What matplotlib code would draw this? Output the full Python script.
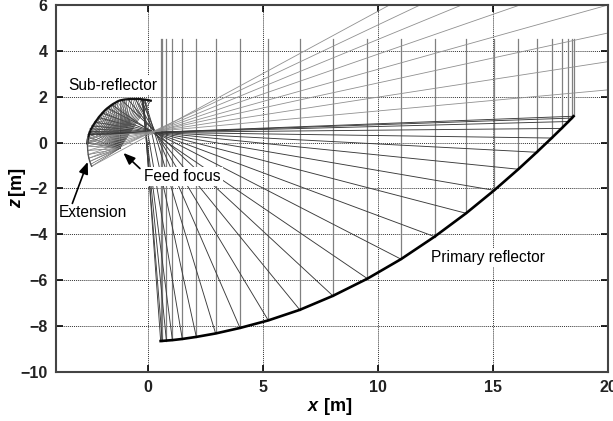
from matplotlib import pyplot as plt

plt.rcParams["font.family"] = ["Liberation Sans", "DejaVu Sans"]

# primary reflector, left to right
primary_x = [0.55, 0.62, 0.8, 1.06, 1.49, 2.1, 2.94, 4.0, 5.23, 6.6, 8.04, 9.54,
             11.0, 12.46, 13.83, 15.05, 16.1, 16.9, 17.55, 17.98, 18.28, 18.43, 18.5]
primary_z = [-8.65, -8.645, -8.63, -8.61, -8.56, -8.47, -8.32, -8.08, -7.75, -7.29, -6.68, -5.93,
             -5.08, -4.1, -3.08, -2.08, -1.16, -0.42, 0.2, 0.62, 0.92, 1.07, 1.15]

# where each primary ray ends on the sub-reflector
hit_x = [-0.2, -0.22, -0.24, -0.27, -0.25, -0.15, -0.15, -0.3, -0.55, -0.87, -1.15, -1.55,
         -1.75, -2.0, -2.15, -2.33, -2.44, -2.52, -2.56, -2.58, -2.59, -2.6, -2.6]
hit_z = [1.88, 1.88, 1.89, 1.89, 1.89, 1.87, 1.87, 1.89, 1.9, 1.89, 1.85, 1.63,
         1.5, 1.3, 1.09, 0.9, 0.73, 0.6, 0.49, 0.42, 0.375, 0.35, 0.34]

# sub-reflector outline, the feed rays start from these points
sub_x = [0.12, 0.02, -0.08, -0.18, -0.28, -0.38, -0.48, -0.58, -0.69, -0.8, -0.91, -1.02, -1.12, -1.22,
         -1.32, -1.42, -1.51, -1.6, -1.69, -1.77, -1.85, -1.93, -2.0, -2.07, -2.14, -2.2, -2.26, -2.32,
         -2.38, -2.43, -2.48, -2.52, -2.56, -2.59, -2.62, -2.64]
sub_z = [1.83, 1.85, 1.87, 1.88, 1.89, 1.9, 1.9, 1.9, 1.9, 1.9, 1.89, 1.88, 1.86, 1.84,
         1.8, 1.74, 1.69, 1.63, 1.56, 1.5, 1.43, 1.35, 1.27, 1.19, 1.11, 1.02, 0.94, 0.85,
         0.76, 0.67, 0.58, 0.48, 0.37, 0.26, 0.13, -0.03]

# extension of the sub-reflector and where its rays leave the plot
ext_x = [-2.62, -2.63, -2.63, -2.62, -2.6, -2.57, -2.53, -2.49, -2.45]
ext_z = [0.22, 0.03, -0.15, -0.34, -0.52, -0.68, -0.82, -0.94, -1.03]
exit_x = [20, 20, 20, 20, 16.17, 13.64, 11.83, 11.1, 10.5]
exit_z = [2.3, 3.53, 4.78, 6, 6, 6, 6, 6, 6]

focus_x = -1.22
focus_z = -0.25
caustic_x = -0.75
caustic_z = 0.78
top_z = 4.5

fig = plt.figure(figsize=(6.13, 4.21), dpi=100)
ax = fig.add_axes([56 / 613, 1 - 372 / 421, 552 / 613, 367 / 421])

for x, z, hx, hz in zip(primary_x, primary_z, hit_x, hit_z):
    ax.plot([x, x], [z, top_z], color="#808080", lw=0.9, zorder=2)
    ax.plot([x, hx], [z, hz], color="#3a3a3a", lw=0.65, zorder=2)

for sx, sz in zip(sub_x, sub_z):
    ax.plot([sx, focus_x], [sz, focus_z], color="#3a3a3a", lw=0.45, zorder=2)
    # inner fan towards the caustic, only the left part of the arc shows it
    if sx < -1.0:
        ax.plot([sx, caustic_x], [sz, caustic_z], color="#555555", lw=0.4, zorder=2)

for i, (sx, sz, ex, ez) in enumerate(zip(ext_x, ext_z, exit_x, exit_z)):
    ax.plot([sx, focus_x], [sz, focus_z], color="#555555", lw=0.45, zorder=2)
    # 8 rays in the reference leave the plot, the one at i == 7 stops inside the fan
    if i != 7:
        ax.plot([sx, ex], [sz, ez], color="#909090", lw=0.6, zorder=2)

ax.plot(primary_x, primary_z, color="black", lw=1.9, zorder=3)
ax.plot(sub_x, sub_z, color="#111111", lw=1.6, zorder=3)
ax.plot(ext_x, ext_z, color="#555555", lw=1.0, zorder=3)

ax.set_xlim(-4, 20)
ax.set_ylim(-10, 6)
ax.set_xticks([0, 5, 10, 15, 20])
ax.set_yticks([-10, -8, -6, -4, -2, 0, 2, 4, 6])
ax.grid(color="#333333", ls=(0, (1, 1)), lw=0.7)
ax.set_axisbelow(True)
ax.tick_params(direction="in", top=True, right=True, length=5, width=1.2, labelsize=11.5, pad=6)
for lab in ax.get_xticklabels() + ax.get_yticklabels():
    lab.set_fontweight("bold")
    lab.set_color("#222222")
for s in ax.spines.values():
    s.set_linewidth(1.5)
    s.set_color("#444444")

ax.text(0.4745, -0.0945, "x", style="italic", weight="bold", fontsize=13, transform=ax.transAxes, ha="right", va="center")
ax.text(0.4855, -0.0945, "[m]", weight="bold", fontsize=13, transform=ax.transAxes, ha="left", va="center")
ax.text(-0.0707, 0.46, "z", style="italic", weight="bold", fontsize=13, rotation=90, transform=ax.transAxes, ha="center", va="center")
ax.text(-0.0707, 0.482, "[m]", weight="bold", fontsize=13, rotation=90, transform=ax.transAxes, ha="center", va="bottom")

box = dict(facecolor="white", edgecolor="none", pad=1.5)
ax.text(-1.54, 2.47, "Sub-reflector", fontsize=11.2, ha="center", va="center", bbox=box, zorder=4)
ax.text(1.49, -1.49, "Feed focus", fontsize=11.2, ha="center", va="center", bbox=box, zorder=4)
ax.text(-2.4, -3.03, "Extension", fontsize=11.2, ha="center", va="center", bbox=box, zorder=4)
ax.text(14.77, -4.99, "Primary reflector", fontsize=11.2, ha="center", va="center", bbox=box, zorder=4)

arrow = dict(arrowstyle="-|>,head_length=0.5,head_width=0.2", color="black", lw=1.2, mutation_scale=14, shrinkA=0, shrinkB=0)
ax.annotate("", xy=(-1.07, -0.45), xytext=(-0.35, -1.13), arrowprops=arrow, zorder=5)
ax.annotate("", xy=(-2.62, -0.84), xytext=(-3.29, -2.65), arrowprops=arrow, zorder=5)

fig.savefig("out.png", dpi=100)
